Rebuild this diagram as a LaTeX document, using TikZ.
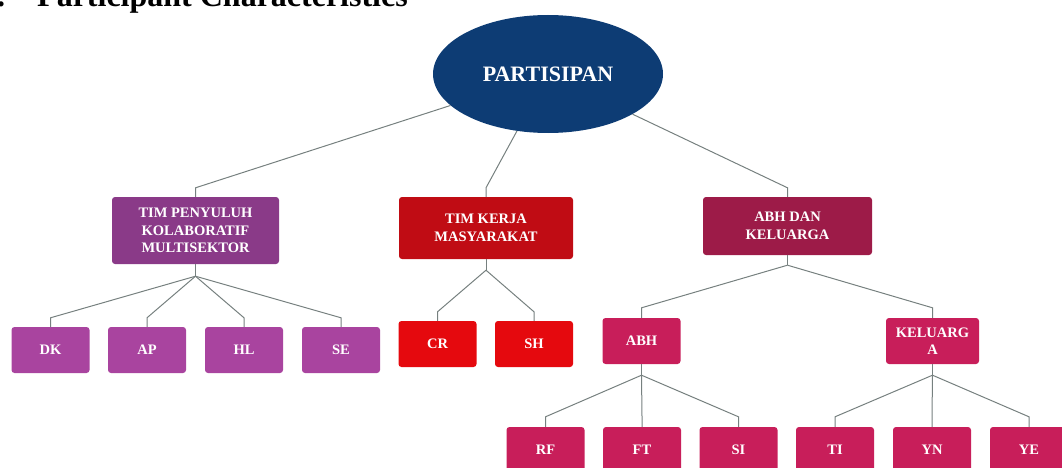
\documentclass[tikz,border=0pt]{standalone}
\usepackage{fontspec}
\setmainfont{Liberation Serif}
\usetikzlibrary{shapes.geometric,calc}
\definecolor{navy}{HTML}{0D3C74}
\definecolor{tpkc}{HTML}{8A3A88}
\definecolor{purp}{HTML}{A9449F}
\definecolor{tkmc}{HTML}{C00C14}
\definecolor{redc}{HTML}{E5090E}
\definecolor{abhkc}{HTML}{9D1B48}
\definecolor{pinkc}{HTML}{C81E5A}
\definecolor{linec}{HTML}{76807F}
\tikzset{
  boxbase/.style={rectangle, rounded corners=3pt, text=white, align=center, inner sep=0pt,
     font=\fontsize{14.5}{17.5}\selectfont\bfseries},
  lvlone/.style={boxbase},
  leaf/.style={boxbase, minimum width=78pt, minimum height=46pt},
  conn/.style={draw=linec, line width=1pt},
}
\begin{document}
\begin{tikzpicture}[x=1pt,y=-1pt]
\useasboundingbox (0,0) rectangle (1062,468);
\begin{scope}
\clip (0,0) rectangle (1062,468);
% title
\node[anchor=base west, inner sep=0pt, font=\fontsize{32}{36}\selectfont\bfseries] (title) at (37,7)
  {\llap{a.\hspace{32pt}}Participant Characteristics};
% root
\node[ellipse, fill=navy, minimum width=230pt, minimum height=118pt, inner sep=0pt,
  text=white, font=\fontsize{22}{25}\selectfont\bfseries] (root) at (548,74) {PARTISIPAN};
% level 1
\node[lvlone, fill=tpkc, minimum width=167pt, minimum height=67pt] (tpk) at (195.5,230.5)
  {TIM PENYULUH\\KOLABORATIF\\MULTISEKTOR};
\node[lvlone, fill=tkmc, minimum width=174pt, minimum height=62pt] (tkm) at (486,228)
  {TIM KERJA\\MASYARAKAT};
\node[lvlone, fill=abhkc, minimum width=169pt, minimum height=58pt] (abhk) at (787.5,226)
  {ABH DAN\\KELUARGA};
% level 2
\node[leaf, fill=purp] (dk) at (50.5,350) {DK};
\node[leaf, fill=purp] (ap) at (147,350) {AP};
\node[leaf, fill=purp] (hl) at (244,350) {HL};
\node[leaf, fill=purp] (se) at (341,350) {SE};
\node[leaf, fill=redc] (cr) at (437.5,344) {CR};
\node[leaf, fill=redc] (sh) at (534,344) {SH};
\node[leaf, fill=pinkc] (abh) at (641.5,341) {ABH};
\node[leaf, fill=pinkc, minimum width=93pt] (kel) at (932.5,341) {KELUARG\\A};
% level 3
\node[leaf, fill=pinkc] (rf) at (545.5,450) {RF};
\node[leaf, fill=pinkc] (ft) at (642,450) {FT};
\node[leaf, fill=pinkc] (si) at (738.5,450) {SI};
\node[leaf, fill=pinkc] (ti) at (835,450) {TI};
\node[leaf, fill=pinkc] (yn) at (932,450) {YN};
\node[leaf, fill=pinkc] (ye) at (1029,450) {YE};
% connectors root -> level 1
\foreach \c in {tpk,tkm,abhk}{
  \draw[conn] (root) -- ($(\c.north)+(0,-9)$) -- (\c.north);
}
% junctions
\coordinate (jtpk) at ($(tpk.south)+(0,12)$);
\coordinate (jtkm) at ($(tkm.south)+(0,11)$);
\coordinate (jabhk) at ($(abhk.south)+(0,10)$);
\coordinate (jabh) at ($(abh.south)+(0,11)$);
\coordinate (jkel) at ($(kel.south)+(0,11)$);
\draw[conn] (tpk.south) -- (jtpk);
\draw[conn] (tkm.south) -- (jtkm);
\draw[conn] (abhk.south) -- (jabhk);
\draw[conn] (abh.south) -- (jabh);
\draw[conn] (kel.south) -- (jkel);
\foreach \c in {dk,ap,hl,se}{
  \draw[conn] (jtpk) -- ($(\c.north)+(0,-9)$) -- (\c.north);
}
\foreach \c in {cr,sh}{
  \draw[conn] (jtkm) -- ($(\c.north)+(0,-9)$) -- (\c.north);
}
\foreach \c in {abh,kel}{
  \draw[conn] (jabhk) -- ($(\c.north)+(0,-10)$) -- (\c.north);
}
\foreach \c in {rf,ft,si}{
  \draw[conn] (jabh) -- ($(\c.north)+(0,-10)$) -- (\c.north);
}
\foreach \c in {ti,yn,ye}{
  \draw[conn] (jkel) -- ($(\c.north)+(0,-10)$) -- (\c.north);
}
\end{scope}
\end{tikzpicture}
\end{document}
